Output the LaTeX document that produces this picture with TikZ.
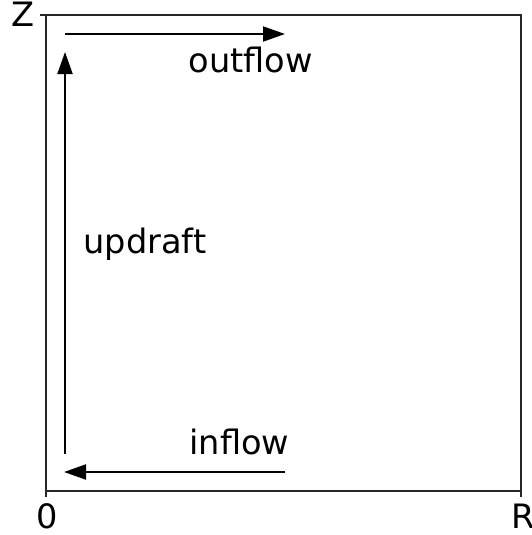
\documentclass[tikz,border=0pt]{standalone}
\usepackage{fontspec}
\setmainfont{DejaVu Sans}
\usetikzlibrary{arrows.meta}
\begin{document}
\begin{tikzpicture}[x=1pt,y=-1pt,
  lbl/.style={inner sep=0pt,outer sep=0pt,font=\fontsize{33.6}{40}\selectfont},
  axisline/.style={line width=1.5pt,draw=black!85},
  flow/.style={line width=2pt,-{Triangle[length=22pt,width=15pt]}}]
\useasboundingbox (0,0) rectangle (531,535);
% axes
\draw[axisline] (46,15) rectangle (521,491);
\coordinate (zt1) at (40,15); \coordinate (zt2) at (46,15);
\coordinate (ot1) at (46,491); \coordinate (ot2) at (46,497);
\coordinate (rt1) at (521,491); \coordinate (rt2) at (521,497);
\draw[axisline] (zt1) -- (zt2);
\draw[axisline] (ot1) -- (ot2);
\draw[axisline] (rt1) -- (rt2);
\node[lbl,anchor=base east] (zlab) at (34.5,27) {Z};
\node[lbl,anchor=base] (olab) at (47,528) {0};
\node[lbl,anchor=base west] (rlab) at (511,528) {R};
% flows
\coordinate (outS) at (65,34); \coordinate (outE) at (285,34);
\coordinate (upS) at (65,454); \coordinate (upE) at (65,52);
\coordinate (inS) at (285,472); \coordinate (inE) at (64,472);
\draw[flow] (outS) -- (outE);
\draw[flow] (upS) -- (upE);
\draw[flow] (inS) -- (inE);
\node[lbl,anchor=base west] (outflow) at (188.5,73) {outflow};
\node[lbl,anchor=base west] (updraft) at (83.5,253) {updraft};
\node[lbl,anchor=base west] (inflow) at (189.5,454) {inflow};
\end{tikzpicture}
\end{document}
